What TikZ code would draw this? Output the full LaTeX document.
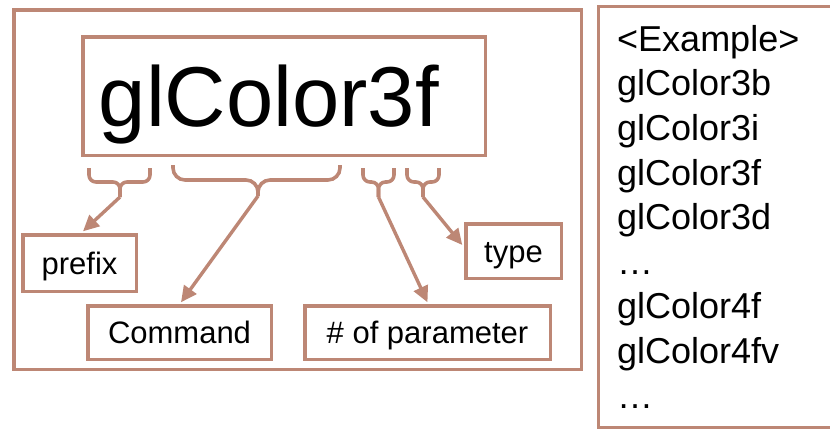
\documentclass[tikz,border=0pt]{standalone}
\usepackage{fontspec}
\setmainfont{Liberation Sans}
\usetikzlibrary{arrows.meta}
\definecolor{brn}{RGB}{189,135,117}
\begin{document}
\begin{tikzpicture}[x=1pt,y=-1pt,
  box/.style={draw=brn, line width=3.5pt, inner sep=0pt},
  lbl/.style={box, font=\fontsize{31}{36}\selectfont, text height=22pt, text depth=0pt},
  brc/.style={draw=brn, line width=3.6pt, rounded corners=7pt},
  bigbrc/.style={brc, rounded corners=12pt},
  arr/.style={draw=brn, line width=3.4pt, -{Triangle[length=16pt,width=15pt]}}]
\useasboundingbox (0,0) rectangle (830,431);
% outer frame and main box
\node[box, minimum width=567.5pt, minimum height=359.5pt] (frame) at (297.5,189.5) {};
\node[box, font=\fontsize{85}{100}\selectfont, text height=61pt, text depth=0pt,
      inner xsep=16pt, text width=370.5pt, align=left, minimum height=118.5pt] (func) at (284,96) {glColor3f};
% part boxes
\node[lbl, minimum width=113.5pt, minimum height=56.5pt] (prefix) at (79.5,263) {prefix};
\node[lbl, minimum width=183.5pt, minimum height=53.5pt] (command) at (179.5,332.5) {Command};
\node[lbl, minimum width=245.5pt, minimum height=53.5pt] (param) at (427.5,332.5) {\# of parameter};
\node[lbl, minimum width=95.5pt, minimum height=54.5pt] (type) at (513.5,251) {type};
% braces
\draw[brc] (89,168) -- (89,182) -- (120,182) -- (120,197) coordinate (t1);
\draw[brc] (150,168) -- (150,182) -- (120,182) -- (120,197);
\draw[bigbrc] (173,165) -- (173,180) -- (258,180) -- (258,196) coordinate (t2);
\draw[bigbrc] (340,165) -- (340,180) -- (258,180) -- (258,196);
\draw[brc] (363,168) -- (363,182) -- (378.5,182) -- (378.5,197) coordinate (t3);
\draw[brc] (394,168) -- (394,182) -- (378.5,182) -- (378.5,197);
\draw[brc] (407,168) -- (407,182) -- (423,182) -- (423,197) coordinate (t4);
\draw[brc] (439,168) -- (439,182) -- (423,182) -- (423,197);
% arrows
\draw[arr] (t1) -- ([xshift=3.5pt,yshift=1.7pt]prefix.north);
\draw[arr] (t2) -- ([xshift=1.5pt,yshift=1.7pt]command.north);
\draw[arr] (t3) -- ([yshift=1.7pt]param.north);
\draw[arr] (t4) -- ([xshift=-1.7pt,yshift=6pt]type.west);
% example list
\draw[draw=brn, line width=3.5pt] (830,6.7) -- (598.7,6.7) -- (598.7,427.3) -- (830,427.3);
\node[anchor=north west, inner sep=0pt, align=left, font=\fontsize{36}{44.6}\selectfont] (examples) at (617,25)
  {<Example>\\glColor3b\\glColor3i\\glColor3f\\glColor3d\\…\\glColor4f\\glColor4fv\\…};
\end{tikzpicture}
\end{document}
